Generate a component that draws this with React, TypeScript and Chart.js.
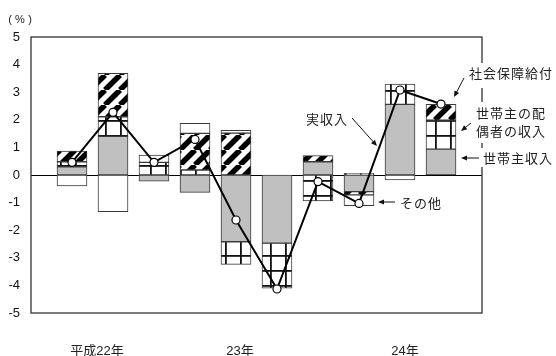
import React, { useEffect, useRef } from 'react';
import { Chart, registerables } from 'chart.js';

Chart.register(...registerables);

// Quarterly periods (hidden category labels; year captions are drawn separately)
const PERIODS = ['22-1', '22-2', '22-3', '22-4', '23-1', '23-2', '23-3', '23-4', '24-1', '24-2'];

// Contributions to the change in actual income (percentage points)
const HEAD_INCOME = [0.3, 1.4, -0.22, -0.63, -2.42, -2.47, 0.48, -0.6, 2.56, 0.94];
const SPOUSE_INCOME = [0.18, 0.71, 0.46, 0.18, -0.82, -1.63, -0.94, 0.06, 0.73, 1.05];
const SOCIAL_BENEFITS = [0.39, 1.57, null, 1.33, 1.52, null, 0.22, -0.12, null, 0.57];
const OTHER_INCOME = [-0.4, -1.33, 0.26, 0.36, 0.1, null, null, -0.39, -0.18, null];
// Actual income, year-on-year change (%)
const ACTUAL_INCOME = [0.46, 2.27, 0.46, 1.29, -1.63, -4.13, -0.24, -1.03, 3.08, 2.57];

const Y_MIN = -5;
const Y_MAX = 5;
const Y_STEP = 1;

const YEAR_LABELS = ['平成22年', '23年', '24年'];
// caption centres, in category-index units
const YEAR_LABEL_AT = [1.61, 5.1, 9.12];

const JP_FONT = "'Noto Sans CJK JP', sans-serif";
const NUM_FONT = "'Liberation Sans', 'Noto Sans CJK JP', sans-serif";

const pad = (arr: (number | null)[]) => [null, ...arr, null];

function makeGridPattern(ctx: CanvasRenderingContext2D) {
  const s = 15;
  const c = document.createElement('canvas');
  c.width = s;
  c.height = s;
  const g = c.getContext('2d')!;
  g.fillStyle = '#fff';
  g.fillRect(0, 0, s, s);
  g.fillStyle = '#111';
  g.fillRect(0, 0, s, 1.8);
  g.fillRect(0, 0, 1.8, s);
  return ctx.createPattern(c, 'repeat')!;
}

function makeHatchPattern(ctx: CanvasRenderingContext2D) {
  const s = 15;
  const c = document.createElement('canvas');
  c.width = s;
  c.height = s;
  const g = c.getContext('2d')!;
  g.fillStyle = '#fff';
  g.fillRect(0, 0, s, s);
  g.strokeStyle = '#000';
  g.lineWidth = 5.5;
  g.beginPath();
  for (const o of [-s, 0, s]) {
    g.moveTo(o, s);
    g.lineTo(o + s, 0);
  }
  g.stroke();
  return ctx.createPattern(c, 'repeat')!;
}

function arrow(ctx: CanvasRenderingContext2D, x1: number, y1: number, x2: number, y2: number) {
  const ang = Math.atan2(y2 - y1, x2 - x1);
  const len = 6;
  const w = 2.6;
  ctx.beginPath();
  ctx.moveTo(x1, y1);
  ctx.lineTo(x2 - Math.cos(ang) * len * 0.8, y2 - Math.sin(ang) * len * 0.8);
  ctx.stroke();
  ctx.beginPath();
  ctx.moveTo(x2, y2);
  ctx.lineTo(x2 - Math.cos(ang) * len - Math.sin(ang) * w, y2 - Math.sin(ang) * len + Math.cos(ang) * w);
  ctx.lineTo(x2 - Math.cos(ang) * len + Math.sin(ang) * w, y2 - Math.sin(ang) * len - Math.cos(ang) * w);
  ctx.closePath();
  ctx.fill();
}

const decor = {
  id: 'decor',
  beforeDatasetsDraw(chart: any) {
    const { ctx, chartArea: a, scales } = chart;
    const y0 = Math.round(scales.y.getPixelForValue(0)) + 0.5;
    ctx.save();
    ctx.strokeStyle = '#000';
    ctx.lineWidth = 1;
    ctx.beginPath();
    ctx.moveTo(a.left, y0);
    ctx.lineTo(a.right, y0);
    ctx.stroke();
    ctx.restore();
  },
  afterDraw(chart: any) {
    const { ctx, chartArea: a, scales } = chart;
    ctx.save();
    // plot frame
    ctx.strokeStyle = '#333';
    ctx.lineWidth = 1.3;
    ctx.strokeRect(a.left, a.top, a.right - a.left, a.bottom - a.top);

    // unit caption
    ctx.fillStyle = '#222';
    ctx.font = `11px ${NUM_FONT}`;
    ctx.textAlign = 'center';
    ctx.textBaseline = 'middle';
    ctx.fillText('(', 10, 20);
    ctx.fillText('%', 20, 20);
    ctx.fillText(')', 30, 20);

    // series call-outs on the right
    ctx.textAlign = 'left';
    ctx.fillStyle = '#fff';
    ctx.fillRect(465, 63, 91, 25);
    ctx.fillRect(468, 102, 88, 41);
    ctx.fillRect(470, 148, 86, 19);

    ctx.fillStyle = '#222';
    ctx.font = `13px ${JP_FONT}`;
    (ctx as any).letterSpacing = '1px';
    ctx.fillText('社会保障給付', 469, 73);
    ctx.fillText('世帯主の配', 476, 113);
    ctx.fillText('偶者の収入', 476, 131);
    ctx.fillText('世帯主収入', 483, 158);
    ctx.fillText('実収入', 306, 119);
    ctx.fillText('その他', 400, 203);
    (ctx as any).letterSpacing = '0px';

    ctx.strokeStyle = '#111';
    ctx.fillStyle = '#111';
    ctx.lineWidth = 1;
    arrow(ctx, 464, 78, 454, 97);
    arrow(ctx, 471, 123, 461, 131);
    arrow(ctx, 479, 158, 461, 158);
    arrow(ctx, 352, 118, 377, 146);
    arrow(ctx, 395, 202, 378, 202);

    // year captions under the axis
    ctx.fillStyle = '#222';
    ctx.font = `13px ${NUM_FONT}`;
    ctx.textAlign = 'center';
    YEAR_LABELS.forEach((t, i) => {
      const x = scales.x.getPixelForValue(YEAR_LABEL_AT[i]);
      ctx.fillText(t, x, 351);
    });
    ctx.restore();
  },
};

export default function App() {
  const ref = useRef<HTMLCanvasElement>(null);

  useEffect(() => {
    const canvas = ref.current!;
    const ctx = canvas.getContext('2d')!;
    const gridFill = makeGridPattern(ctx);
    const hatchFill = makeHatchPattern(ctx);

    const barStyle = {
      stack: 'parts',
      order: 1,
      borderColor: '#3a3a3a',
      borderWidth: 1,
      borderSkipped: false,
      barThickness: 30,
    };

    const chart = new Chart(canvas, {
      type: 'bar',
      data: {
        labels: ['', ...PERIODS, ''],
        datasets: [
          {
            type: 'line',
            label: '実収入',
            data: pad(ACTUAL_INCOME),
            stack: 'total',
            order: 0,
            borderColor: '#000',
            borderWidth: 2,
            pointRadius: 4,
            pointBackgroundColor: '#fff',
            pointBorderColor: '#000',
            pointBorderWidth: 1.2,
            tension: 0,
          } as any,
          { label: '世帯主収入', data: pad(HEAD_INCOME), backgroundColor: '#c0c0c0', ...barStyle },
          { label: '世帯主の配偶者の収入', data: pad(SPOUSE_INCOME), backgroundColor: gridFill, ...barStyle },
          { label: '社会保障給付', data: pad(SOCIAL_BENEFITS), backgroundColor: hatchFill, ...barStyle },
          { label: 'その他', data: pad(OTHER_INCOME), backgroundColor: '#fff', ...barStyle },
        ],
      },
      options: {
        responsive: false,
        animation: false,
        layout: { padding: { left: 0, top: 37, right: 74, bottom: 43 } },
        plugins: { legend: { display: false }, tooltip: { enabled: false } },
        scales: {
          x: { display: false, stacked: true, offset: false },
          y: {
            stacked: true,
            min: Y_MIN,
            max: Y_MAX,
            ticks: {
              stepSize: Y_STEP,
              padding: 11,
              color: '#111',
              font: { family: NUM_FONT, size: 13 },
            },
            grid: { display: false, drawTicks: false },
            border: { display: false },
            afterFit: (s: any) => {
              s.width = 31;
            },
          },
        },
      } as any,
      plugins: [decor],
    });

    return () => chart.destroy();
  }, []);

  return (
    <div style={{ position: 'fixed', left: 0, top: 0, width: 556, height: 356, background: '#fff' }}>
      <canvas ref={ref} width={556} height={356} />
    </div>
  );
}
